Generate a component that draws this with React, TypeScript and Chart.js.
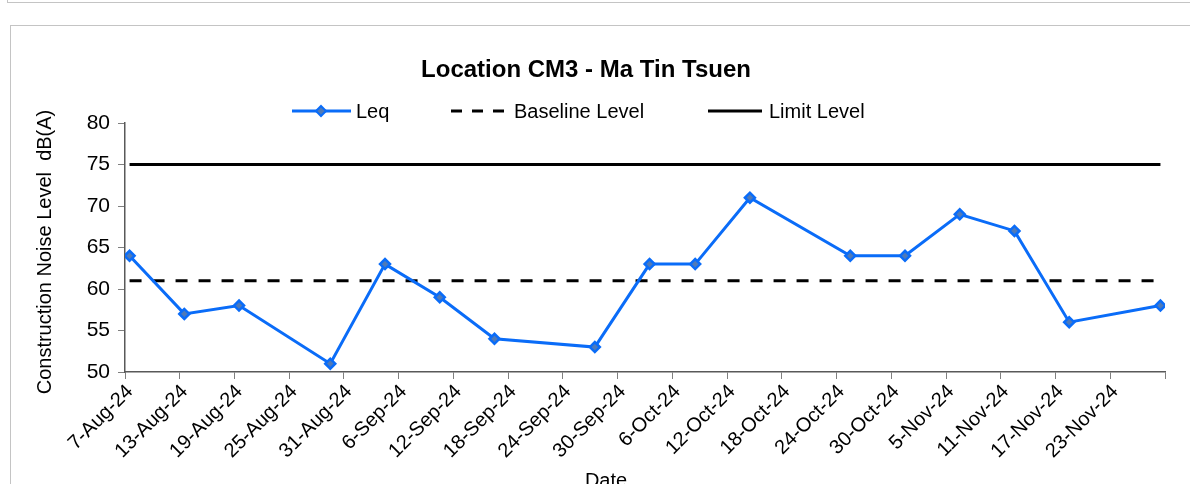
import React, { useEffect, useRef } from "react";
import { Chart, registerables } from "chart.js";

Chart.register(...registerables);

const chartTitle = "Location CM3 - Ma Tin Tsuen";
const yAxisTitle = "Construction Noise Level  dB(A)";
const xAxisTitle = "Date";
const axisStart = "2024-08-07";
const axisEndDays = 114;
const tickStepDays = 6;

const measurementDates = [
  "2024-08-07", "2024-08-13", "2024-08-19", "2024-08-29",
  "2024-09-04", "2024-09-10", "2024-09-16", "2024-09-27",
  "2024-10-03", "2024-10-08", "2024-10-14", "2024-10-25",
  "2024-10-31", "2024-11-06", "2024-11-12", "2024-11-18",
  "2024-11-28",
];
const leqValues = [64, 57, 58, 51, 63, 59, 54, 53, 63, 63, 71, 64, 64, 69, 67, 56, 58];
const baselineValues = [61, 61, 61, 61, 61, 61, 61, 61, 61, 61, 61, 61, 61, 61, 61, 61, 61];
const limitValues = [75, 75, 75, 75, 75, 75, 75, 75, 75, 75, 75, 75, 75, 75, 75, 75, 75];
const yMin = 50;
const yMax = 80;
const yStep = 5;

const MONTHS = ["Jan", "Feb", "Mar", "Apr", "May", "Jun", "Jul", "Aug", "Sep", "Oct", "Nov", "Dec"];
const DAY_MS = 86400000;
const startMs = Date.parse(axisStart + "T00:00:00Z");
const dayOffset = (d: string) => (Date.parse(d + "T00:00:00Z") - startMs) / DAY_MS + 0.5;
const formatDay = (v: number) => {
  const dt = new Date(startMs + v * DAY_MS);
  return `${dt.getUTCDate()}-${MONTHS[dt.getUTCMonth()]}-${String(dt.getUTCFullYear()).slice(2)}`;
};

const FONT = "'Liberation Sans', Arial, sans-serif";
const BLUE = "#0a6cf8";
const MARKER_FILL = "#4f7ab8";

const decorPlugin = {
  id: "decor",
  afterDraw(chart: any) {
    const ctx = chart.ctx as CanvasRenderingContext2D;
    ctx.save();
    // title
    ctx.fillStyle = "#000";
    ctx.font = `bold 24px ${FONT}`;
    ctx.textAlign = "center";
    ctx.textBaseline = "middle";
    ctx.fillText(chartTitle, 586, 70);

    // legend
    const ly = 111;
    ctx.font = `20px ${FONT}`;
    ctx.textAlign = "left";
    // Leq
    ctx.strokeStyle = BLUE;
    ctx.lineWidth = 3;
    ctx.setLineDash([]);
    ctx.beginPath();
    ctx.moveTo(292, ly);
    ctx.lineTo(351, ly);
    ctx.stroke();
    ctx.beginPath();
    ctx.moveTo(321, ly - 5);
    ctx.lineTo(326, ly);
    ctx.lineTo(321, ly + 5);
    ctx.lineTo(316, ly);
    ctx.closePath();
    ctx.fillStyle = MARKER_FILL;
    ctx.fill();
    ctx.lineWidth = 2;
    ctx.stroke();
    ctx.fillStyle = "#000";
    ctx.fillText("Leq", 356, ly + 1);
    // Baseline
    ctx.strokeStyle = "#000";
    ctx.lineWidth = 3;
    ctx.setLineDash([11, 10]);
    ctx.beginPath();
    ctx.moveTo(451, ly);
    ctx.lineTo(509, ly);
    ctx.stroke();
    ctx.setLineDash([]);
    ctx.fillText("Baseline Level", 514, ly + 1);
    // Limit
    ctx.beginPath();
    ctx.moveTo(708, ly);
    ctx.lineTo(762, ly);
    ctx.stroke();
    ctx.fillText("Limit Level", 769, ly + 1);

    // y axis title
    ctx.save();
    ctx.translate(45, 252);
    ctx.rotate(-Math.PI / 2);
    ctx.textAlign = "center";
    ctx.textBaseline = "middle";
    ctx.fillText(yAxisTitle, 0, 0);
    ctx.restore();

    // x axis title
    ctx.textAlign = "center";
    ctx.textBaseline = "middle";
    ctx.fillText(xAxisTitle, 606, 481);
    ctx.restore();
  },
};

export default function App() {
  const ref = useRef<HTMLCanvasElement | null>(null);

  useEffect(() => {
    if (!ref.current) return;
    const xs = measurementDates.map(dayOffset);
    const toPts = (vals: number[]) => vals.map((v, i) => ({ x: xs[i], y: v }));
    const chart = new Chart(ref.current, {
      type: "line",
      data: {
        datasets: [
          {
            label: "Leq",
            data: toPts(leqValues),
            borderColor: BLUE,
            borderWidth: 3,
            backgroundColor: MARKER_FILL,
            pointStyle: "rectRot",
            pointRadius: 5,
            pointBorderWidth: 2.5,
            pointBorderColor: BLUE,
            pointBackgroundColor: MARKER_FILL,
            tension: 0,
          },
          {
            label: "Baseline Level",
            data: toPts(baselineValues),
            borderColor: "#000",
            borderWidth: 3,
            borderDash: [12, 11],
            pointRadius: 0,
            tension: 0,
          },
          {
            label: "Limit Level",
            data: toPts(limitValues),
            borderColor: "#000",
            borderWidth: 3,
            pointRadius: 0,
            tension: 0,
          },
        ],
      },
      options: {
        responsive: false,
        animation: false,
        layout: { padding: { left: 0, top: 123, right: 25, bottom: 0 } },
        plugins: {
          legend: { display: false },
          title: { display: false },
          tooltip: { enabled: false },
        },
        scales: {
          x: {
            type: "linear",
            min: 0,
            max: axisEndDays,
            afterFit: (s: any) => {
              s.height = 112;
            },
            afterBuildTicks: (s: any) => {
              const t = [];
              for (let v = 0; v <= axisEndDays; v += tickStepDays) t.push({ value: v });
              s.ticks = t;
            },
            ticks: {
              autoSkip: false,
              minRotation: 45,
              maxRotation: 45,
              padding: 1,
              labelOffset: 5,
              color: "#000",
              font: { family: FONT, size: 20 },
              callback: (v: any) => (Number(v) >= axisEndDays ? "" : formatDay(Number(v))),
            },
            grid: {
              drawOnChartArea: false,
              drawTicks: true,
              tickLength: 7,
              color: "#7f7f7f",
            },
            border: { display: true, color: "#595959", width: 1.5 },
          },
          y: {
            min: yMin,
            max: yMax,
            afterFit: (s: any) => {
              s.width = 125;
            },
            ticks: {
              stepSize: yStep,
              padding: 8,
              color: "#000",
              font: { family: FONT, size: 21 },
            },
            grid: {
              drawOnChartArea: false,
              drawTicks: true,
              tickLength: 7,
              color: "#7f7f7f",
            },
            border: { display: true, color: "#595959", width: 1.5 },
          },
        },
      },
      plugins: [decorPlugin],
    });
    return () => chart.destroy();
  }, []);

  return (
    <div
      style={{
        position: "fixed",
        left: 0,
        top: 0,
        width: 1190,
        height: 484,
        overflow: "hidden",
        background: "#fff",
      }}
    >
      <div
        style={{
          position: "absolute",
          left: 7,
          top: -10,
          width: 1200,
          height: 11,
          border: "1px solid #c4c4c4",
        }}
      />
      <div
        style={{
          position: "absolute",
          left: 10,
          top: 25,
          width: 1200,
          height: 500,
          border: "1px solid #c4c4c4",
        }}
      />
      <canvas
        ref={ref}
        width={1190}
        height={484}
        style={{ position: "absolute", left: 0, top: 0, width: 1190, height: 484 }}
      />
    </div>
  );
}
